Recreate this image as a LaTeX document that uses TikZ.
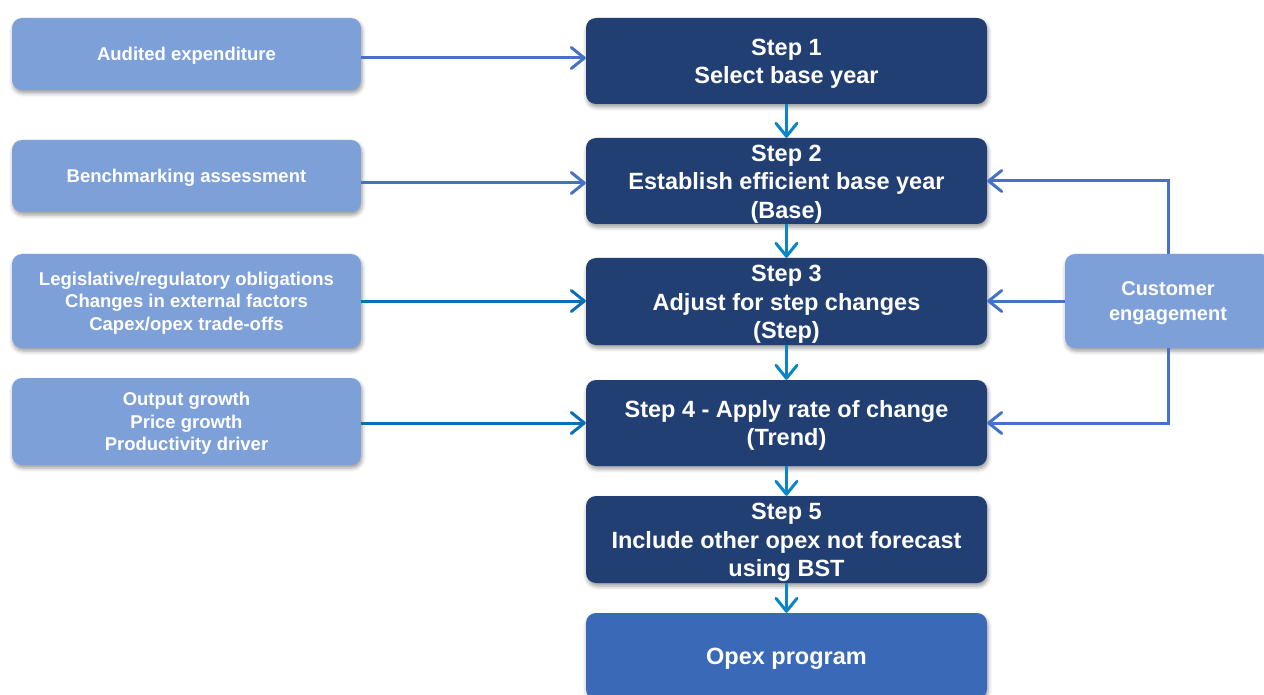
\documentclass[tikz,border=0pt]{standalone}
\usepackage{fontspec}
\setmainfont{Liberation Sans}
\usetikzlibrary{arrows.meta,shadows.blur}
\definecolor{lightb}{HTML}{7EA0D8}
\definecolor{navy}{HTML}{223F74}
\definecolor{opexc}{HTML}{3A69B7}
\definecolor{arrA}{HTML}{4472C4}
\definecolor{arrB}{HTML}{0B6FB8}
\definecolor{arrV}{HTML}{0A86C8}
\newcommand\boxtxt[2]{\raisebox{#1}[\height][\depth]{\begin{tabular}{@{}c@{}}#2\end{tabular}}}
\begin{document}
\begin{tikzpicture}[x=1pt,y=-1pt,
  shadowed/.style={blur shadow={shadow xshift=1pt,shadow yshift=-3pt,shadow blur radius=4pt,shadow opacity=40}},
  leftbox/.style={shadowed,rounded corners=10pt,fill=lightb,minimum width=349pt,text=white,inner sep=0pt,
    font=\bfseries\fontsize{18.5}{22.5}\selectfont},
  stepbox/.style={shadowed,rounded corners=10pt,fill=navy,minimum width=401pt,minimum height=86pt,text=white,inner sep=0pt,
    font=\bfseries\fontsize{23.5}{28.5}\selectfont},
  arrowln/.style={line width=3pt,-{Straight Barb[length=13pt,width=21pt,round]}},
]
\useasboundingbox (0,0) rectangle (1264,695);
% left boxes
\node[leftbox,minimum height=72pt] (a1) at (186.5,54) {\boxtxt{-2pt}{Audited expenditure}};
\node[leftbox,minimum height=72pt] (a2) at (186.5,176) {\boxtxt{-2pt}{Benchmarking assessment}};
\node[leftbox,minimum height=94pt] (a3) at (186.5,301) {\boxtxt{-2pt}{Legislative/regulatory obligations\\Changes in external factors\\Capex/opex trade-offs}};
\node[leftbox,minimum height=87pt] (a4) at (186.5,421.5) {\boxtxt{-2pt}{Output growth\\Price growth\\Productivity driver}};
% steps
\node[stepbox] (s1) at (786.5,61) {\boxtxt{-3pt}{Step 1\\Select base year}};
\node[stepbox] (s2) at (786.5,181) {\boxtxt{-3pt}{Step 2\\Establish efficient base year\\(Base)}};
\node[stepbox,minimum height=87pt] (s3) at (786.5,301.5) {\boxtxt{-3pt}{Step 3\\Adjust for step changes\\(Step)}};
\node[stepbox] (s4) at (786.5,423) {\boxtxt{-3pt}{Step 4 - Apply rate of change\\(Trend)}};
\node[stepbox,minimum height=87pt] (s5) at (786.5,539.5) {\boxtxt{-3pt}{Step 5\\Include other opex not forecast\\using BST}};
\node[stepbox,fill=opexc] (op) at (786.5,656) {\boxtxt{-3pt}{Opex program}};
% customer
\node[shadowed,rounded corners=10pt,fill=lightb,minimum width=206pt,minimum height=94pt,text=white,inner sep=0pt,
  font=\bfseries\fontsize{20}{25}\selectfont] (ce) at (1168,301) {\boxtxt{-2pt}{Customer\\engagement}};
% left arrows
\draw[arrowln,arrA] ([yshift=-4pt]a1.east) -- ([yshift=-4pt]a1.east -| s1.west);
\draw[arrowln,arrA] ([yshift=-7pt]a2.east) -- ([yshift=-7pt]a2.east -| s2.west);
\draw[arrowln,arrB] (a3.east) -- (a3.east -| s3.west);
\draw[arrowln,arrB] ([yshift=-1.5pt]a4.east) -- ([yshift=-1.5pt]a4.east -| s4.west);
% vertical arrows
\draw[arrowln,arrV] (s1.south) -- (s2.north);
\draw[arrowln,arrV] (s2.south) -- (s3.north);
\draw[arrowln,arrV] (s3.south) -- (s4.north);
\draw[arrowln,arrV] (s4.south) -- (s5.north);
\draw[arrowln,arrV] (s5.south) -- (op.north);
% customer arrows
\draw[arrowln,arrA] (ce.north) -- (ce.north |- s2.east) -- (s2.east);
\draw[arrowln,arrA] (ce.west) -- (ce.west -| s3.east);
\draw[arrowln,arrA] (ce.south) -- (ce.south |- s4.east) -- (s4.east);
\end{tikzpicture}
\end{document}
